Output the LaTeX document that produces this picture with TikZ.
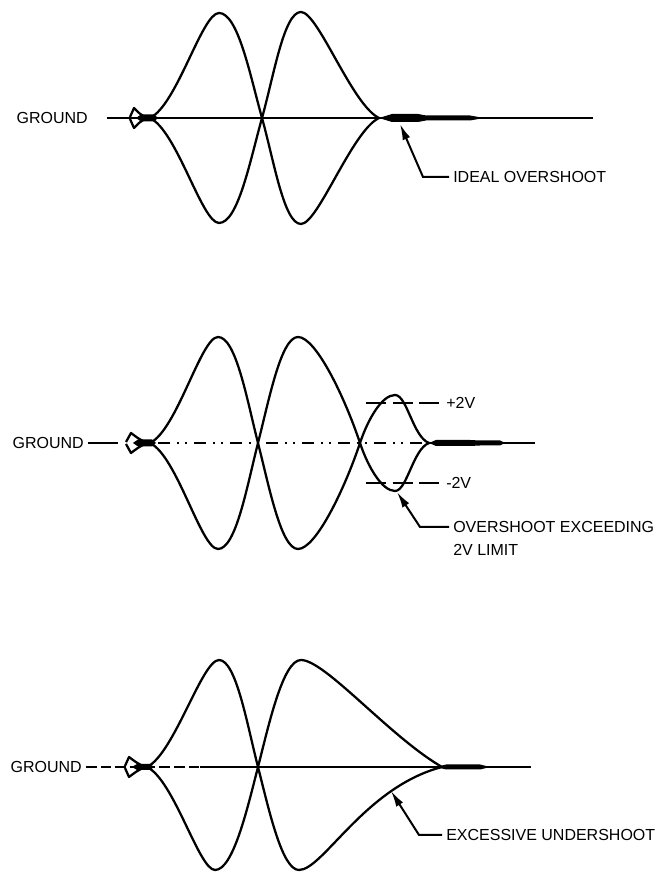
\documentclass[tikz,border=0pt]{standalone}
\usepackage{fontspec}
\setmainfont{Liberation Sans}
\usetikzlibrary{arrows.meta}
\tikzset{
  trace/.style={line width=1.7pt, line join=round},
  gnd/.style={line width=1.4pt},
  blob/.style={fill=black, draw=none},
  pointer/.style={line width=1.5pt, -{Latex[length=12pt, width=6pt]}},
  lbl/.style={anchor=west, inner sep=3pt},
  lim/.style={line width=1.8pt, dash pattern=on 15pt off 5pt}
}
\begin{document}
\begin{tikzpicture}[x=0.75pt, y=0.75pt, font=\fontsize{12}{17}\selectfont]
  \useasboundingbox (0,0) rectangle (660,873);
  % Ideal overshoot
  \begin{scope}[shift={(0,755)}]
    \node[lbl, anchor=east] (gnd1) at (92,0) {GROUND};
    \draw[gnd] (107,0) -- (593,0);
    \foreach \s in {1,-1} {
      \begin{scope}[yscale=\s]
        \draw[trace] (148,0) .. controls (141,2) and (137,7) .. (134,10) -- (130,1);
        \draw[trace] (150,0) .. controls (177,13) and (202,105) .. (219,105)
          .. controls (238,105) and (250,43) .. (262,0)
          .. controls (274,-43) and (284,-106) .. (301,-106)
          .. controls (318,-106) and (352,-13) .. (379,0);
        \fill[blob] (136,0) -- (141,3.5) -- (154,3.5) -- (158,0) -- cycle;
        \fill[blob] (379,0) -- (392,4) -- (418,4) -- (426,2.5) -- (470,2.5) -- (484,0) -- cycle;
      \end{scope}
    }
    \node[lbl] (ovs1) at (449,-59) {IDEAL OVERSHOOT};
    \coordinate (k1) at (423,-59);
    \coordinate (t1) at (400,-6);
    \draw[pointer] (ovs1.west) -- (k1) -- (t1);
  \end{scope}
  % Overshoot over the 2V limit
  \begin{scope}[shift={(0,430)}]
    \node[lbl, anchor=east] (gnd2) at (88,0) {GROUND};
    \draw[gnd] (gnd2.east) -- (118,0);
    \draw[gnd, dash pattern=on 9pt off 5pt on 1.5pt off 5pt on 1.5pt off 5pt] (158,0) -- (429,0);
    \draw[gnd] (429,0) -- (535,0);
    \foreach \s in {1,-1} {
      \begin{scope}[yscale=\s]
        \draw[trace] (148,0) .. controls (141,2) and (135,7) .. (131,10) -- (126,1);
        \draw[trace] (150,0) .. controls (177,13) and (201,106) .. (218,106)
          .. controls (236,106) and (247,43) .. (258,0)
          .. controls (269,-43) and (281,-106) .. (298,-106)
          .. controls (316,-106) and (345,-45) .. (360,0)
          .. controls (368,24) and (382,48) .. (395,48)
          .. controls (407,48) and (413,6) .. (429,0);
        \fill[blob] (133,0) -- (138,3.5) -- (152,3.5) -- (156,0) -- cycle;
        \fill[blob] (429,0) -- (436,3) -- (470,3) -- (480,2.5) -- (500,2.5) -- (505,0) -- cycle;
      \end{scope}
    }
    \node[lbl] (pv) at (442,40) {+2V};
    \node[lbl] (mv) at (442,-40) {-2V};
    \draw[lim] (366,40) -- (pv.west);
    \draw[lim] (366,-40) -- (mv.west);
    \node[lbl, anchor=north west, align=left] (ovs2) at (449,-74) {OVERSHOOT EXCEEDING\\2V LIMIT};
    \coordinate (k2) at (420,-84);
    \coordinate (t2) at (397,-49);
    \draw[pointer] (ovs2.west |- k2) -- (k2) -- (t2);
  \end{scope}
  % Excessive undershoot
  \begin{scope}[shift={(0,106)}]
    \node[lbl, anchor=east] (gnd3) at (86,0) {GROUND};
    \draw[gnd, dash pattern=on 8pt off 3pt] (gnd3.east) -- (200,0);
    \draw[gnd] (200,0) -- (531,0);
    \foreach \s in {1,-1} {
      \begin{scope}[yscale=\s]
        \draw[trace] (146,0) .. controls (139,2) and (133,7) .. (129,10) -- (125,1);
        \fill[blob] (132,0) -- (137,3) -- (150,3) -- (154,0) -- cycle;
        \fill[blob] (436,0) -- (446,2.5) -- (480,2.5) -- (490,0) -- cycle;
      \end{scope}
    }
    \draw[trace] (147,0) .. controls (174,13) and (202,107) .. (219,107)
      .. controls (236,107) and (247,43) .. (258,0)
      .. controls (269,-43) and (282,-103) .. (299,-103)
      .. controls (323,-103) and (365,-20) .. (442,0);
    \draw[trace] (147,0) .. controls (174,-13) and (199,-103) .. (215,-103)
      .. controls (233,-103) and (247,-43) .. (258,0)
      .. controls (269,43) and (283,107) .. (301,107)
      .. controls (325,107) and (390,30) .. (442,0);
    \node[lbl] (und3) at (442,-68) {EXCESSIVE UNDERSHOOT};
    \coordinate (k3) at (419,-68);
    \coordinate (t3) at (391,-24);
    \draw[pointer] (und3.west) -- (k3) -- (t3);
  \end{scope}
\end{tikzpicture}
\end{document}
